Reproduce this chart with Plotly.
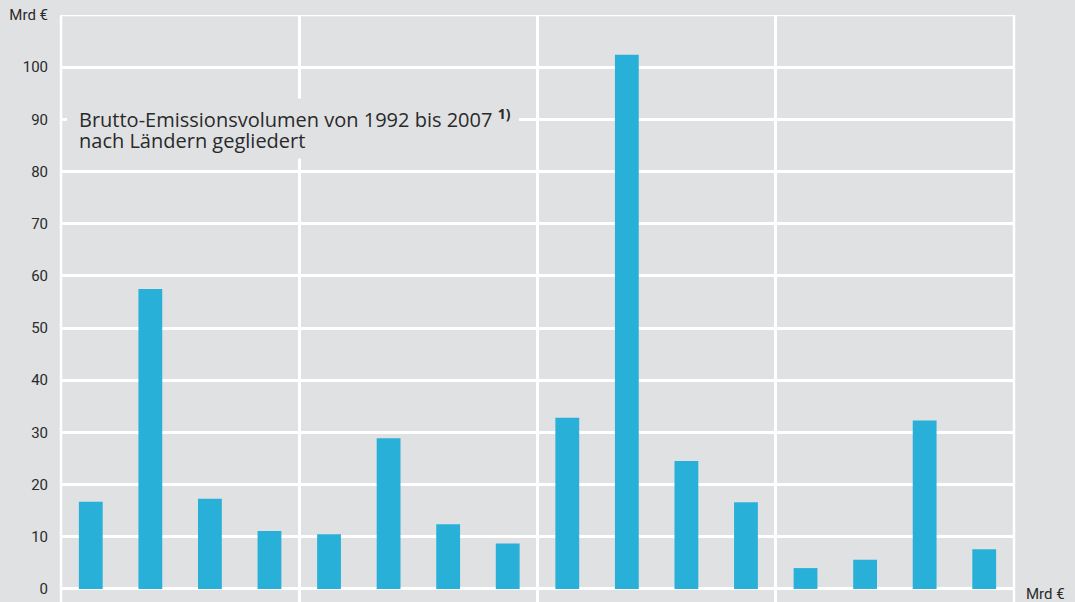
import plotly.graph_objects as go

# Data (Mrd €), 16 countries in 4 groups of 4
values = [16.7, 57.5, 17.3, 11.1, 10.5, 28.9, 12.4, 8.7,
          32.8, 102.4, 24.5, 16.6, 4.0, 5.6, 32.3, 7.6]
group_size = 4
y_tick_vals = [0, 10, 20, 30, 40, 50, 60, 70, 80, 90, 100, 110]
y_tick_text = ["0", "10", "20", "30", "40", "50", "60", "70", "80", "90", "100", "Mrd €"]
title_line1 = "Brutto-Emissionsvolumen von 1992 bis 2007"
title_sup = "1)"
title_line2 = "nach Ländern gegliedert"
unit_label = "Mrd €"

BG = "#e0e1e3"
BAR = "#29b0d9"
TXT = "#2a2a2a"
LW = 2.5

x = list(range(len(values)))
n = len(values)
group_edges = [i - 0.5 for i in range(0, n + 1, group_size)]
y_top = y_tick_vals[-1]

fig = go.Figure()
fig.add_trace(go.Bar(x=x, y=values, marker=dict(color=BAR, line=dict(width=0)),
                     width=0.4, hoverinfo="y"))

shapes = [
    # frame lines on the plot edges (top, left, right)
    dict(type="line", xref="paper", yref="y", x0=0, x1=1, y0=y_top, y1=y_top,
         line=dict(color="white", width=LW), layer="below"),
    dict(type="line", xref="paper", yref="paper", x0=0, x1=0, y0=0, y1=1,
         line=dict(color="white", width=LW), layer="below"),
    dict(type="line", xref="paper", yref="paper", x0=1, x1=1, y0=0, y1=1,
         line=dict(color="white", width=LW), layer="below"),
    # background box behind the caption
    dict(type="rect", xref="paper", yref="y", x0=0.0063, x1=0.4806, y0=82.5, y1=94.0,
         fillcolor=BG, line=dict(width=0), layer="above"),
]

fig.update_layout(
    width=1075, height=602,
    margin=dict(l=61, r=61, t=15, b=0),
    paper_bgcolor=BG, plot_bgcolor=BG,
    showlegend=False,
    shapes=shapes,
    xaxis=dict(range=[-0.5, n - 0.5], tickmode="array", tickvals=group_edges,
               showticklabels=False, showgrid=True, gridcolor="white", gridwidth=LW,
               zeroline=False, showline=False, ticks=""),
    yaxis=dict(range=[-2.5, 110], tickmode="array", tickvals=y_tick_vals,
               ticktext=y_tick_text, showgrid=True, gridcolor="white", gridwidth=LW,
               zeroline=True, zerolinecolor="white", zerolinewidth=3,
               showline=False, ticks="", ticklabelstandoff=12,
               tickfont=dict(family="Roboto", size=15, color=TXT)),
    annotations=[
        dict(xref="paper", yref="y", x=0.0168, y=90.1, xanchor="left", yanchor="middle",
             text=f"{title_line1} <sup><b>{title_sup}</b></sup>",
             showarrow=False, align="left",
             font=dict(family="Open Sans", size=20, color=TXT)),
        dict(xref="paper", yref="y", x=0.0168, y=86.0, xanchor="left", yanchor="middle",
             text=title_line2, showarrow=False, align="left",
             font=dict(family="Open Sans", size=20, color=TXT)),
        dict(xref="paper", yref="y", x=1, y=0, xanchor="left", yanchor="middle",
             xshift=10, yshift=-5, text=unit_label, showarrow=False,
             font=dict(family="Roboto", size=15, color=TXT)),
    ],
)

fig.write_html("out.html")
